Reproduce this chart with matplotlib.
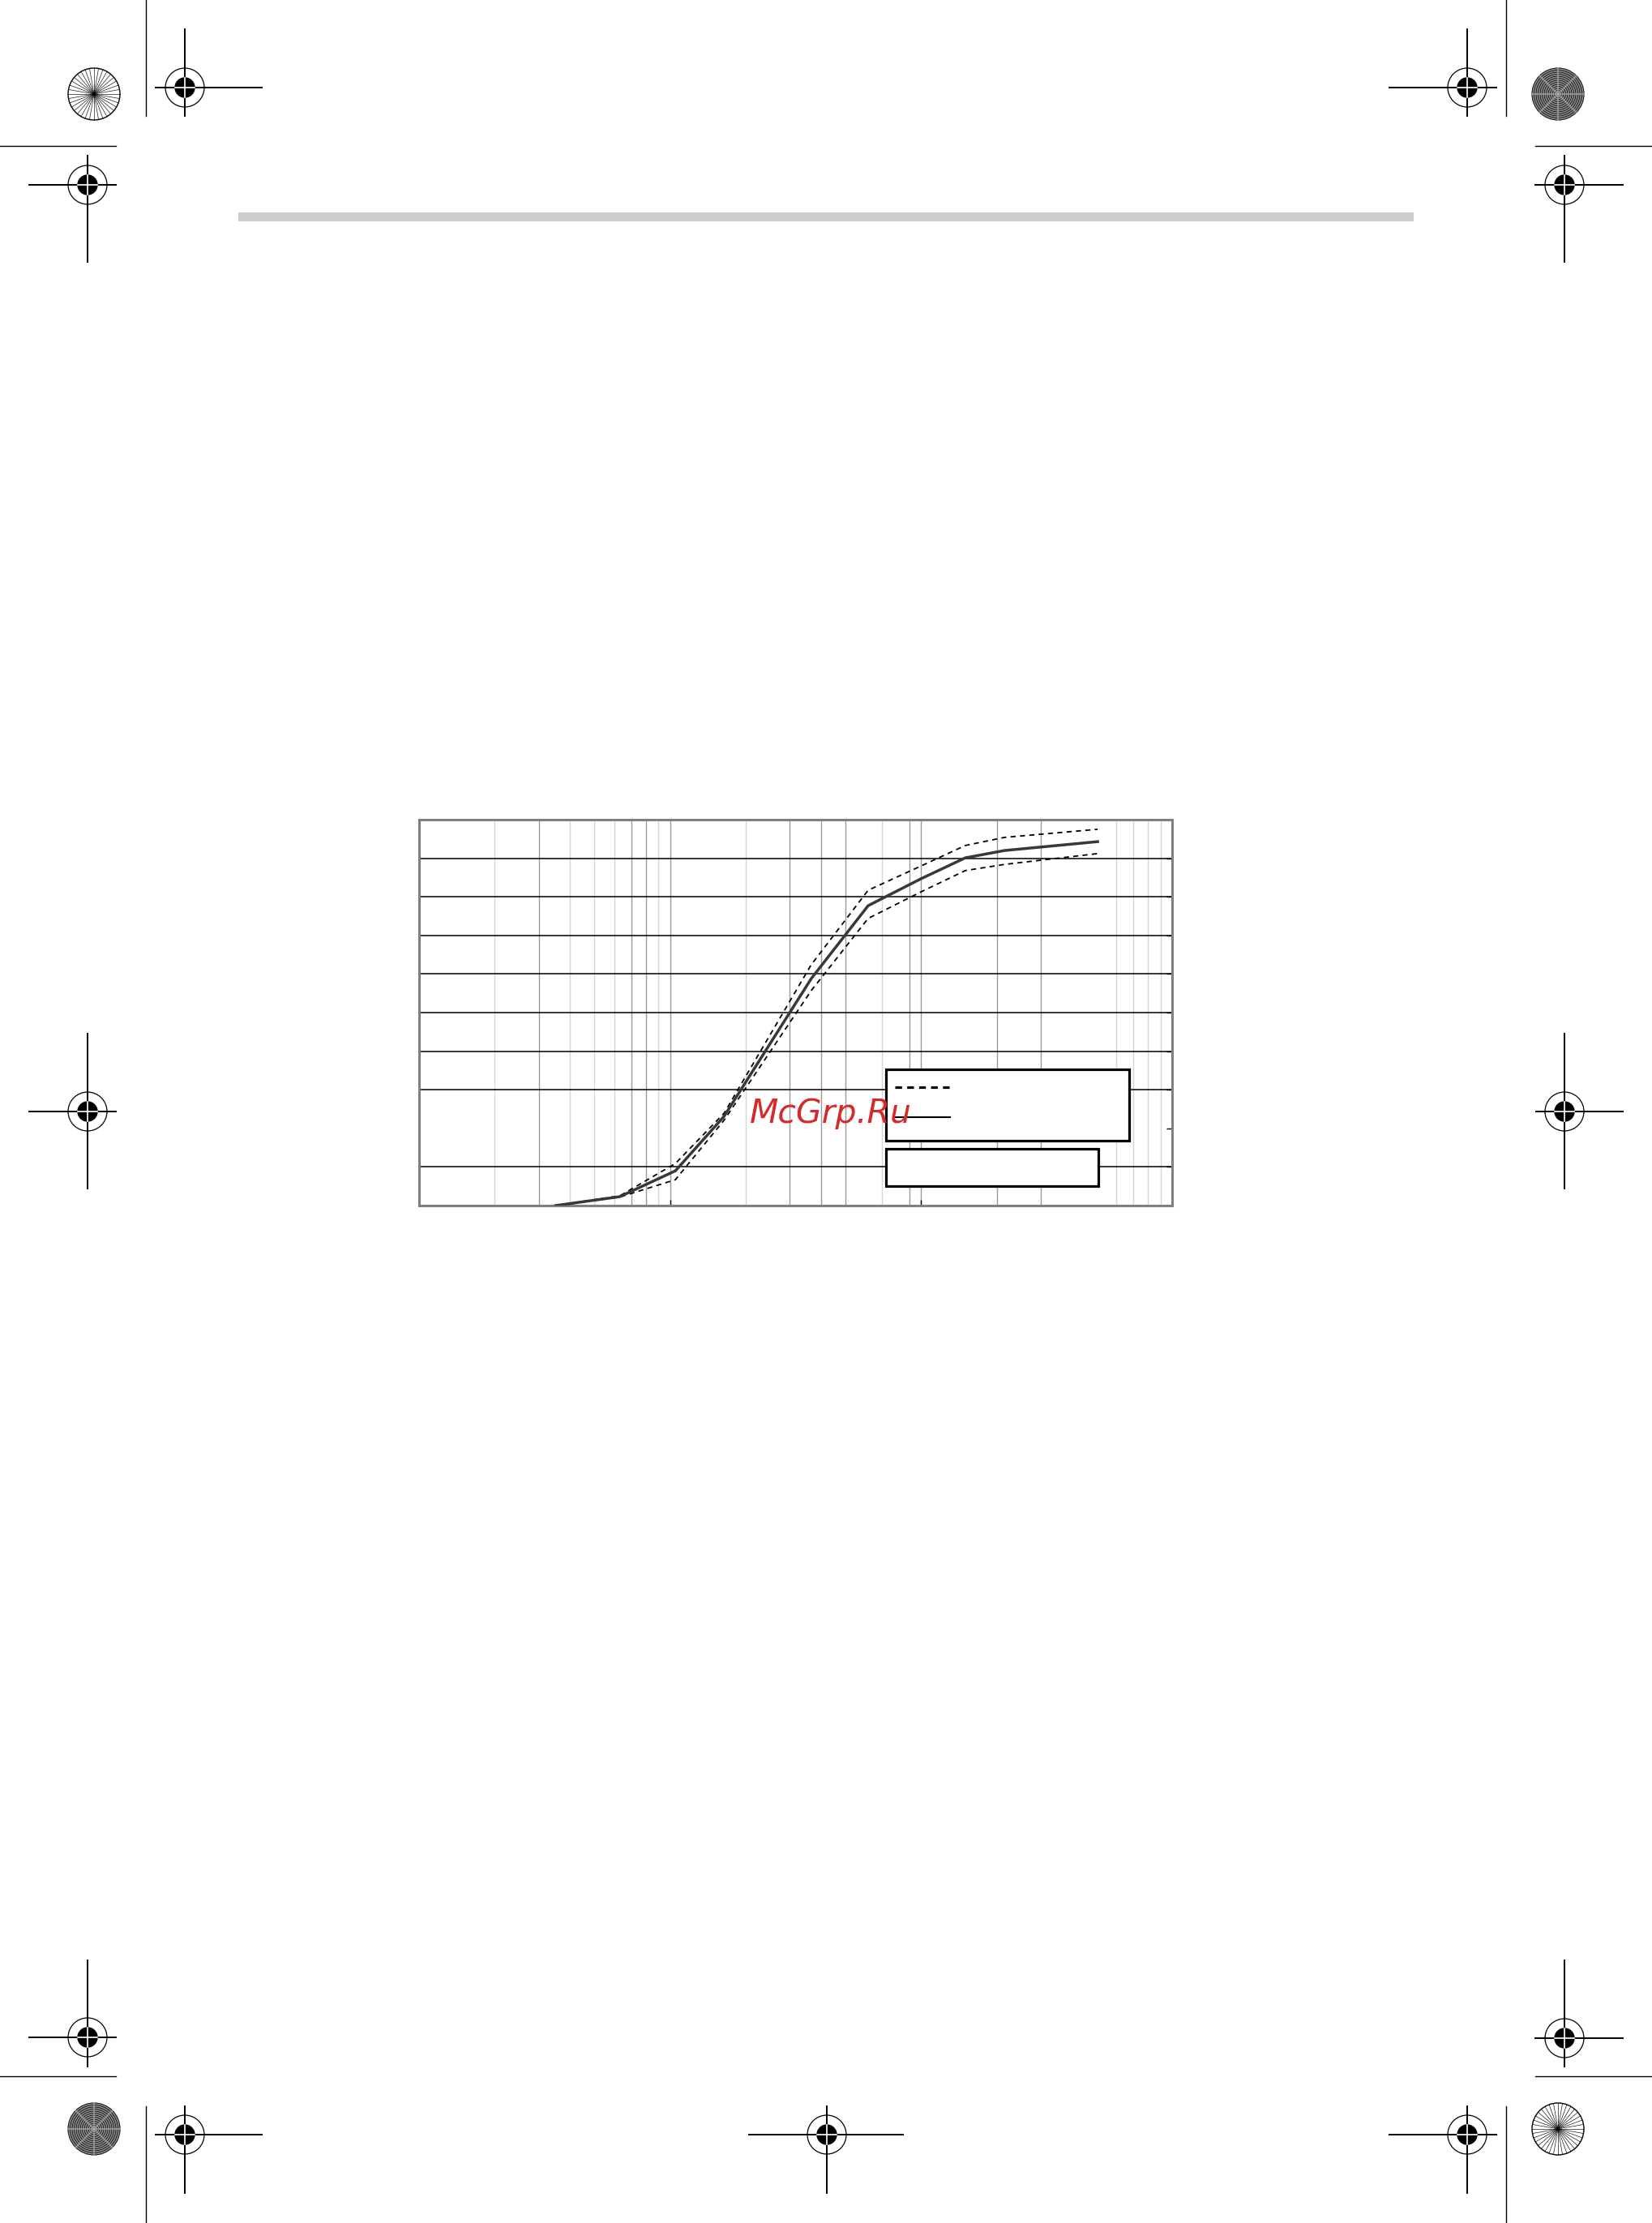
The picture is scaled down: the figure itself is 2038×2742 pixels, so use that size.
import numpy as np
import matplotlib
matplotlib.use('Agg')
import matplotlib.pyplot as plt
from matplotlib.patches import Circle, Rectangle

# grain size (log axis) and cumulative passing, %
sizes = [3.5, 6.3, 10.5, 16.4, 36.5, 61.5, 100, 150, 215, 505]
passing_mean = [0, 2.3, 9.0, 23.1, 58.8, 77.7, 84.7, 90.1, 92.0, 94.3]
passing_upper = [0, 2.5, 10.9, 23.9, 62.4, 81.7, 88.0, 93.3, 95.4, 97.5]
passing_lower = [0, 2.2, 6.7, 22.1, 55.7, 74.4, 81.3, 86.8, 88.4, 91.2]

# grid layout of the original sheet
x_grid_dark = [3, 7, 8, 10, 30, 40, 50, 90, 100, 200, 300]
x_grid_light = [2, 4, 5, 6, 9, 20, 70, 600, 700, 800, 900]
y_grid = [10, 30, 40, 50, 60, 70, 80, 90]

W, H = 2038, 2742
fig = plt.figure(figsize=(W / 100, H / 100), dpi=100)

# ---- page furniture (printer marks), in page pixels ----
page = fig.add_axes([0, 0, 1, 1], zorder=0)
page.set_xlim(0, W)
page.set_ylim(H, 0)
page.axis('off')


def target(cx, cy, h0, h1, v0, v1):
    page.add_patch(Circle((cx, cy), 24, fill=False, lw=0.9, ec='black'))
    page.add_patch(Circle((cx, cy), 12, color='black'))
    page.plot([cx + h0, cx + h1], [cy, cy], color='black', lw=1.4)
    page.plot([cx, cx], [cy + v0, cy + v1], color='black', lw=1.4)
    page.plot([cx - 12, cx + 12], [cy, cy], color='white', lw=1.2)
    page.plot([cx, cx], [cy - 12, cy + 12], color='white', lw=1.2)


def star(cx, cy, dark):
    r = 32
    if dark:
        page.add_patch(Circle((cx, cy), r, color='#8a8a8a'))
        for rr in np.arange(2.0, r + 0.1, 2.5):
            page.add_patch(Circle((cx, cy), rr, fill=False, lw=0.55, ec='black'))
        for a in np.deg2rad(np.arange(0, 180, 45)):
            page.plot([cx - r * np.cos(a), cx + r * np.cos(a)],
                      [cy - r * np.sin(a), cy + r * np.sin(a)],
                      color='#b0b0b0', lw=1.5, alpha=0.6)
    else:
        page.add_patch(Circle((cx, cy), r, fill=False, lw=1.0, ec='black'))
        for a in np.deg2rad(np.arange(0, 180, 10)):
            page.plot([cx - r * np.cos(a), cx + r * np.cos(a)],
                      [cy - r * np.sin(a), cy + r * np.sin(a)], color='black', lw=0.45)


targets = [
    (228, 108, -36, 95, -72, 35), (108, 228, -72, 35, -36, 95),
    (1810, 108, -96, 36, -72, 35), (1930, 228, -36, 72, -36, 95),
    (108, 1371, -72, 35, -96, 95), (1930, 1371, -35, 72, -96, 95),
    (108, 2513, -72, 35, -95, 36), (228, 2633, -36, 95, -35, 72),
    (1020, 2633, -96, 94, -35, 72), (1810, 2633, -96, 36, -35, 72),
    (1930, 2514, -36, 72, -96, 35),
]
for t in targets:
    target(*t)

star(116, 116, False)
star(1922, 116, True)
star(116, 2626, True)
star(1922, 2626, False)

crop = [
    ([180, 180], [0, 143]), ([0, 143], [180, 180]),
    ([1858, 1858], [0, 143]), ([1894, W], [180, 180]),
    ([0, 143], [2561, 2561]), ([180, 180], [2598, H]),
    ([1894, W], [2561, 2561]), ([1858, 1858], [2598, H]),
]
for xs, ys in crop:
    page.plot(xs, ys, color='black', lw=1.0)

page.add_patch(Rectangle((294, 262), 1450, 11, color='#cccccc', lw=0))

# ---- the chart ----
ax_l, ax_t, ax_r, ax_b = 517, 1011, 1446, 1487
ax = fig.add_axes([ax_l / W, 1 - ax_b / H, (ax_r - ax_l) / W, (ax_b - ax_t) / H], zorder=1)
ax.set_facecolor('white')
ax.set_xscale('log')
ax.set_xlim(1, 1000)
ax.set_ylim(0, 100)

for v in x_grid_light:
    ax.axvline(v, color='#d6d6d6', lw=1.0, zorder=1)
for v in x_grid_dark:
    ax.axvline(v, color='#999999', lw=1.0, zorder=1)
for v in y_grid:
    ax.axhline(v, color='black', lw=1.1, zorder=1.5)

ax.plot(sizes, passing_upper, color='black', lw=1.3, dashes=(3.5, 2.9), zorder=3)
ax.plot(sizes, passing_lower, color='black', lw=1.3, dashes=(3.5, 2.9), zorder=3)
ax.plot(sizes, passing_mean, color='#383838', lw=2.5, zorder=4)

# legend boxes (text removed in the source sheet)
ax.add_patch(Rectangle((0.620, 0.168), 0.323, 0.185, transform=ax.transAxes,
                       fc='white', ec='black', lw=2.3, zorder=5))
ax.add_patch(Rectangle((0.620, 0.050), 0.282, 0.097, transform=ax.transAxes,
                       fc='white', ec='black', lw=2.3, zorder=5))
ax.plot([0.632, 0.705], [0.307, 0.307], transform=ax.transAxes, color='black',
        lw=2.3, dashes=(2.6, 2.0), zorder=6)
ax.plot([0.632, 0.705], [0.229, 0.229], transform=ax.transAxes, color='black',
        lw=1.5, zorder=6)

for s in ax.spines.values():
    s.set_color('#808080')
    s.set_linewidth(2.2)

ax.set_xticks([1, 10, 100, 1000])
ax.xaxis.set_minor_locator(matplotlib.ticker.NullLocator())
ax.set_yticks(np.arange(0, 101, 10))
ax.yaxis.set_ticks_position('right')
ax.tick_params(axis='both', which='major', direction='in', length=5, width=1,
               color='black', labelbottom=False, labelright=False, labelleft=False)

fig.text(1025 / W, 1 - 1385 / H, 'McGrp.Ru', fontsize=29.5, style='italic',
         color='#d42a2a', ha='center', va='baseline', family='DejaVu Sans', zorder=10)

fig.savefig('out.png', dpi=100, facecolor='white')
